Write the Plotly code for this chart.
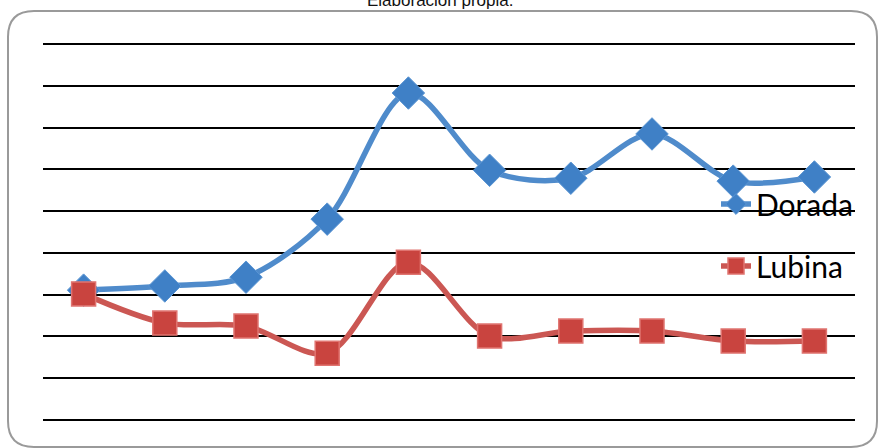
import plotly.graph_objects as go

categories = [1, 2, 3, 4, 5, 6, 7, 8, 9, 10]
dorada = [3.11, 3.21, 3.42, 4.81, 7.83, 5.98, 5.79, 6.85, 5.72, 5.82]
lubina = [3.02, 2.32, 2.25, 1.60, 3.78, 2.01, 2.13, 2.13, 1.89, 1.89]
title_text = "Elaboración propia."

W, H = 879, 448
L, R, T, B = 43, 24, 40, 28
pw, ph = W - L - R, H - T - B
YMAX = 9.1

def px(X):
    return (X - L) / pw

def py(Y):
    return (H - B - Y) / ph

# rounded border path (paper coords)
x0, x1, y0, y1, r = 8, 877, 11, 447, 26
path = (
    f"M {px(x0 + r)},{py(y0)} L {px(x1 - r)},{py(y0)} "
    f"Q {px(x1)},{py(y0)} {px(x1)},{py(y0 + r)} "
    f"L {px(x1)},{py(y1 - r)} Q {px(x1)},{py(y1)} {px(x1 - r)},{py(y1)} "
    f"L {px(x0 + r)},{py(y1)} Q {px(x0)},{py(y1)} {px(x0)},{py(y1 - r)} "
    f"L {px(x0)},{py(y0 + r)} Q {px(x0)},{py(y0)} {px(x0 + r)},{py(y0)} Z"
)

xi = list(range(len(categories)))

fig = go.Figure()
fig.add_trace(go.Scatter(
    x=xi, y=dorada, name="Dorada", mode="lines+markers",
    line=dict(color="#4F8BCB", width=5.5, shape="spline", smoothing=0.9),
    marker=dict(symbol="diamond", size=25, color="#3F80C6",
                line=dict(color="#5A95D3", width=1)),
    legendgroup="a",
))
fig.add_trace(go.Scatter(
    x=xi, y=lubina, name="Lubina", mode="lines+markers",
    line=dict(color="#CB5753", width=5.5, shape="spline", smoothing=0.9),
    marker=dict(symbol="square", size=24, color="#C9443F",
                line=dict(color="#E07470", width=1.5)),
    legendgroup="b",
))

fig.update_layout(
    width=W, height=H,
    margin=dict(l=L, r=R, t=T, b=B),
    paper_bgcolor="white", plot_bgcolor="white",
    xaxis=dict(range=[-0.5, len(categories) - 0.5], showgrid=False,
               showticklabels=False, zeroline=False, showline=False, ticks=""),
    yaxis=dict(range=[0, YMAX], dtick=1, tick0=0, showgrid=True, gridcolor="black",
               gridwidth=1.6, showticklabels=False, zeroline=True,
               zerolinecolor="black", zerolinewidth=1.6, showline=False, ticks=""),
    showlegend=True,
    legend=dict(x=px(716), y=py(178), xanchor="left", yanchor="top",
                bgcolor="rgba(0,0,0,0)", font=dict(family="Lato, Carlito, Calibri", size=30, color="black"),
                tracegroupgap=20, itemwidth=30),
    shapes=[dict(type="path", path=path, xref="paper", yref="paper",
                 line=dict(color="#9A9A9A", width=2), layer="below")],
    annotations=[dict(text=title_text, x=px(440), y=py(12), xref="paper", yref="paper",
                      xanchor="center", yanchor="bottom", showarrow=False,
                      font=dict(family="Liberation Sans, Arial", size=17, color="#111"))],
)

fig.write_html("out.html", config={"displayModeBar": False},
               post_script="document.body.style.margin='0';document.body.style.overflow='hidden';")
